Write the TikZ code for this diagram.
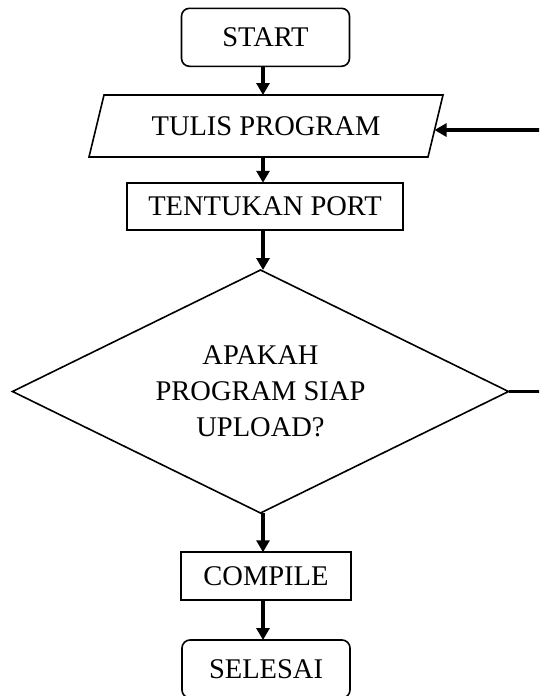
\documentclass[tikz,border=0pt]{standalone}
\usepackage{fontspec}
\setmainfont{Liberation Serif}
\usetikzlibrary{shapes.geometric,arrows.meta,calc}
\begin{document}
\begin{tikzpicture}[x=1pt,y=-1pt,
  every node/.style={font=\fontsize{28.5}{36}\selectfont, inner sep=0pt, outer sep=0pt, line width=1.6pt},
  term/.style={draw, rounded corners=8pt, minimum width=168pt, minimum height=58pt},
  proc/.style={draw, rectangle, minimum height=47.5pt},
  iotext/.style={rectangle, minimum width=354pt, minimum height=62pt},
  iobox/.style={line width=1.6pt, line join=miter},
  dec/.style={draw, diamond, aspect=2, minimum width=496pt, minimum height=243pt, align=center},
  flow/.style={line width=3.4pt, -{Triangle[width=13pt,length=12pt]}},
]
\clip (0,0) rectangle (539,696);
\node[term] (start) at (265.5,37.3) {START};
\node[iotext] (tulis) at (266,126) {TULIS PROGRAM};
\draw[iobox] ([xshift=15pt]tulis.north west) -- (tulis.north east)
  -- ([xshift=-15pt]tulis.south east) -- (tulis.south west) -- cycle;
\node[proc, minimum width=276pt] (port) at (265,206.5) {TENTUKAN PORT};
\node[dec] (cek) at (260.5,391.5) {APAKAH\\PROGRAM SIAP\\UPLOAD?};
\node[proc, minimum width=170.5pt] (compile) at (266,576) {COMPILE};
\node[term] (selesai) at (266,669) {SELESAI};
\coordinate (col) at (263,0);
\coordinate (loopin) at ($([xshift=-15pt]tulis.south east)!0.435!(tulis.north east)$);
\coordinate (edge) at (560,0);
\draw[flow] (start.south -| col) -- (tulis.north -| col);
\draw[flow] (tulis.south -| col) -- (port.north -| col);
\draw[flow] (port.south -| col) -- (cek.north -| col);
\draw[flow] (cek.south -| col) -- (compile.north -| col);
\draw[flow] (compile.south -| col) -- (selesai.north -| col);
\draw[flow] (cek.east) -- (cek.east -| edge) -- (loopin -| edge) -- (loopin);
\end{tikzpicture}
\end{document}
